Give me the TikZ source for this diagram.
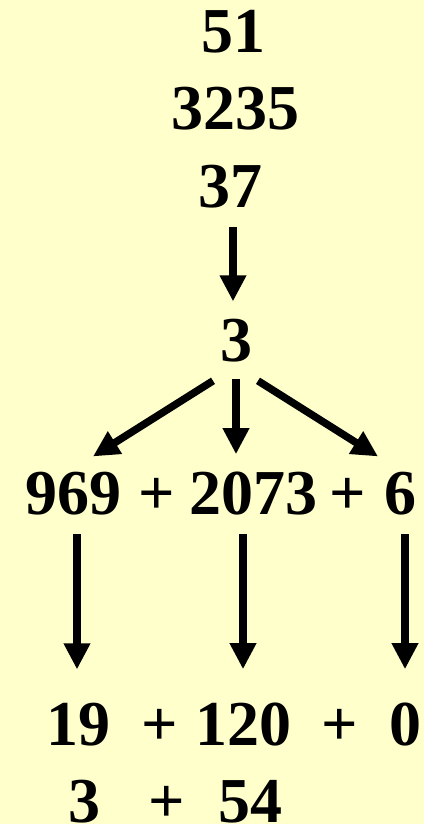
\documentclass[tikz,border=0pt]{standalone}
\usepackage{fontspec}
\setmainfont{Liberation Serif}
\usetikzlibrary{arrows.meta,calc}
\definecolor{bg}{RGB}{255,255,204}
\tikzset{
  num/.style={anchor=base,inner sep=0pt,font=\fontsize{64}{64}\selectfont\bfseries},
  arr/.style={line width=7.5pt,-{Triangle[width=25pt,length=26pt]}}
}
\begin{document}
\begin{tikzpicture}[x=1pt,y=-1pt]
\fill[bg] (0,0) rectangle (424,824);
\useasboundingbox (0,0) rectangle (424,824);
% top stack
\node[num] (n51) at (233,53) {51};
\node[num] (n3235) at (235,130) {3235};
\node[num] (n37) at (230,207) {37};
\node[num] (n3) at (236,361) {3};
% row 1
\node[num] (n969) at (73,514) {969};
\node[num] (p1) at (157,514) {+};
\node[num] (n2073) at (253,514) {2073};
\node[num] (p2) at (348,514) {+};
\node[num] (n6) at (400,514) {6};
% row 2
\node[num] (n19) at (78,745) {19};
\node[num] (p3) at (160,745) {+};
\node[num] (n120) at (243,745) {120};
\node[num] (p4) at (340,745) {+};
\node[num] (n0) at (405,745) {0};
% row 3
\node[num] (n3b) at (84,822) {3};
\node[num] (p5) at (167,822) {+};
\node[num] (n54) at (250,822) {54};
% arrows
\draw[arr] ([xshift=-3pt,yshift=-19pt]n3.south |- n37.south) -- ([xshift=-3pt,yshift=17pt]n3.north);
\draw[arr] ([xshift=-23pt,yshift=-19pt]n3.south) -- ([xshift=20pt,yshift=15pt]n969.north);
\draw[arr] ([yshift=-17pt]n3.south) -- ([yshift=17pt]n3.south |- n2073.north);
\draw[arr] ([xshift=22pt,yshift=-19pt]n3.south) -- ([xshift=-22pt,yshift=15pt]n6.north);
\draw[arr] ([xshift=-1pt,yshift=-19pt]n19.north |- n969.south) -- ([xshift=-1pt,yshift=33pt]n19.north);
\draw[arr] ([yshift=-19pt]n120.north |- n2073.south) -- ([yshift=33pt]n120.north);
\draw[arr] ([yshift=-19pt]n0.north |- n6.south) -- ([yshift=33pt]n0.north);
\end{tikzpicture}
\end{document}
